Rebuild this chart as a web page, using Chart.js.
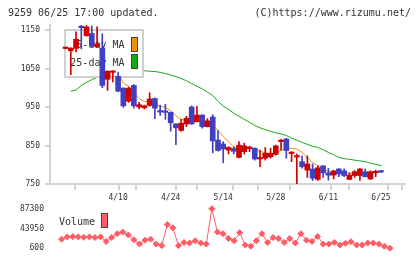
<!DOCTYPE html>
<html>
<head>
<meta charset="utf-8">
<script src="https://cdn.jsdelivr.net/npm/chart.js@4/dist/chart.umd.min.js"></script>
<style>
html,body{margin:0;padding:0;background:#fff;width:420px;height:259px;overflow:hidden;}
#wrap{position:relative;width:420px;height:259px;}
.hdr{position:absolute;top:6px;font:10px 'DejaVu Sans Mono',monospace;color:#333;white-space:pre;line-height:14px;}
#c1{position:absolute;left:0;top:0;}
#c2{position:absolute;left:0;top:195px;}
</style>
</head>
<body>
<div id="wrap">
<canvas id="c1" width="420" height="207"></canvas>
<canvas id="c2" width="420" height="64"></canvas>
<div class="hdr" style="left:8px">9259 06/25 17:00 updated.</div>
<div class="hdr" style="right:9px">(C)https://www.rizumu.net/</div>
</div>
<script>
// ---- data (one entry per trading day, oldest first) ----
const opens  = [1102,1096,1102,1158,1135,1141,1107,1103,1022,1040,1030,999,965,1006,950,948,954,972,939,938,936,906,889,906,950,912,929,899,924,864,854,838,842,819,834,842,843,815,817,821,827,860,867,829,820,808,786,789,762,797,779,773,789,784,762,772,772,782,763,779,784];
const highs  = [1104,1104,1145,1162,1162,1160,1158,1140,1044,1044,1041,1000,1002,1008,962,955,987,974,955,957,937,907,918,926,953,952,930,920,930,889,860,847,847,860,856,848,844,838,845,843,851,866,869,834,828,823,823,802,797,798,791,786,790,789,779,785,790,789,784,786,785];
const lows   = [1101,1034,1093,1101,1134,1106,1106,1000,993,1015,990,949,962,947,945,945,952,920,928,918,887,852,887,899,905,911,895,898,831,835,805,828,828,818,828,834,812,795,812,817,825,838,817,808,751,791,767,759,759,767,760,763,769,769,761,767,759,768,762,769,780];
const closes = [1103,1103,1126,1156,1158,1108,1114,1006,1043,1043,991,953,999,953,956,953,971,947,937,936,909,896,908,921,906,929,899,914,862,837,841,845,835,851,849,843,815,817,830,830,849,864,837,831,822,795,802,765,792,779,773,784,776,772,773,782,789,769,782,781,781];
const ma5    = [null,1074,1089,1108,1129,1130,1132,1108,1086,1063,1039,1012,1004,988,972,964,964,956,952,949,941,927,918,914,910,912,913,914,903,889,873,860,846,842,843,844,839,835,831,828,829,838,842,843,841,832,819,806,797,789,783,780,780,778,778,778,778,778,779,780,783];
const ma25   = [null,991,994,1006,1014,1021,1027,1031,1034,1037,1040,1042,1043,1044,1044,1044,1043,1042,1040,1037,1033,1029,1024,1018,1011,1004,997,989,980,965,952,944,934,926,918,910,902,896,891,887,883,880,876,869,864,858,853,848,845,839,832,826,819,816,814,812,810,808,804,801,798];
const volume = [null,20455,25440,26000,25440,24500,25440,24000,25440,15480,24000,32560,36110,29700,19030,9780,18320,20455,9780,6220,52480,45370,6220,13350,11920,16890,11920,9780,87300,36110,32560,21880,16890,34760,7650,4800,16890,32560,13350,24020,21880,13350,21880,11920,32560,18320,15480,26220,9780,9780,13350,7650,11200,14770,7650,7650,11920,11920,9780,4800,600];
const tickLabels = ['4/10','4/24','5/14','5/28','6/11','6/25'];
const tickIndex  = [10,20,30,40,50,60];
const priceTicks = [750,850,950,1050,1150];
const volumeTicks = [600,43950,87300];

// ---- styling ----
const MONO = "'DejaVu Sans Mono', monospace";
const UP = '#d00000', DOWN = '#4040c0';
const AXIS = '#d4d4d4', TXT = '#333';
const XMIN = -1.078, XMAX = 62.70;

const candleColor = opens.map((o,i) => closes[i] >= o ? UP : DOWN);
const pts = arr => arr.map((v,i) => ({x:i, y:v}));
const plain = v => String(v);

const maLegend = {
  id:'maLegend',
  afterDatasetDraw(chart, args) {
    if (args.index !== 0) return;
    const ctx = chart.ctx;
    ctx.save();
    ctx.fillStyle = '#fff';
    ctx.fillRect(65,30,78,47);
    ctx.strokeStyle = '#cfcfcf'; ctx.lineWidth = 2;
    ctx.strokeRect(65,30,78,47);
    ctx.font = "10px " + MONO;
    ctx.textAlign = 'right'; ctx.textBaseline = 'middle';
    [0,1].forEach((d,k) => {
      const ds = chart.data.datasets[d];
      ctx.fillStyle = TXT;
      ctx.fillText(ds.label, 124.5, 45.5 + k*17.5);
      ctx.fillStyle = ds.borderColor;
      ctx.fillRect(131,37+k*17,7,15);
      ctx.strokeStyle = '#444'; ctx.lineWidth = 1;
      ctx.strokeRect(131.5,37.5+k*17,6,14);
    });
    ctx.restore();
  }
};

new Chart(document.getElementById('c1'), {
  type:'bar',
  data:{
    datasets:[
      {type:'line', label:'5-day MA', data:pts(ma5), borderColor:'#f0900f', backgroundColor:'#f0900f', borderWidth:1, pointRadius:0, order:3},
      {type:'line', label:'25-day MA', data:pts(ma25), borderColor:'#14aa14', backgroundColor:'#14aa14', borderWidth:1, pointRadius:0, order:4},
      {type:'bar', label:'range', data:lows.map((l,i)=>({x:i, y:[l, highs[i]]})), backgroundColor:candleColor, barThickness:1, grouped:false, order:2},
      {type:'bar', label:'body', data:opens.map((o,i)=>({x:i, y:[o, closes[i]]})), backgroundColor:candleColor, barThickness:5, minBarLength:1.5, grouped:false, order:1}
    ]
  },
  options:{
    responsive:false, animation:false, devicePixelRatio:1,
    layout:{padding:{top:25, right:15, left:0, bottom:0}, autoPadding:false},
    plugins:{legend:{display:false}, tooltip:{enabled:false}},
    scales:{
      x:{type:'linear', min:XMIN, max:XMAX, position:'bottom',
        afterBuildTicks: s => {
          const t = [];
          const step = (s.max - s.min) / 11;
          for (let k = 0; k <= 11; k++) t.push({value: s.min + k*step, kind:'g'});
          tickIndex.forEach(v => t.push({value:v, kind:'l'}));
          t.sort((a,b) => a.value - b.value);
          s.ticks = t;
        },
        afterFit: s => { s.height = 23; },
        ticks:{autoSkip:false, maxRotation:0, minRotation:0, padding:3, color:TXT, font:{family:MONO, size:8},
          callback: v => { const k = tickIndex.indexOf(v); return k >= 0 ? tickLabels[k] : ''; }},
        grid:{drawOnChartArea:false, drawTicks:true, tickLength:6, lineWidth:2,
          color: c => (c.tick && c.tick.kind === 'l') ? 'rgba(0,0,0,0)' : AXIS},
        border:{color:AXIS, width:2}
      },
      y:{type:'linear', min:750, max:1163,
        afterBuildTicks: s => { s.ticks = priceTicks.map(v => ({value:v})); },
        afterFit: s => { s.width = 50; },
        ticks:{padding:5, color:TXT, font:{family:MONO, size:8}, callback: plain},
        grid:{drawOnChartArea:false, tickLength:5, lineWidth:2, color:AXIS},
        border:{color:AXIS, width:2}
      }
    }
  },
  plugins:[maLegend]
});

const volLegend = {
  id:'volLegend',
  afterDatasetsDraw(chart) {
    const ctx = chart.ctx, ds = chart.data.datasets[0];
    ctx.save();
    ctx.font = "10px " + MONO;
    ctx.textAlign = 'left'; ctx.textBaseline = 'middle';
    ctx.fillStyle = TXT;
    ctx.fillText(ds.label, 59, 27.5);
    ctx.fillStyle = ds.borderColor;
    ctx.fillRect(101,18,7,15);
    ctx.strokeStyle = '#444'; ctx.lineWidth = 1;
    ctx.strokeRect(101.5,18.5,6,14);
    ctx.restore();
  }
};

new Chart(document.getElementById('c2'), {
  type:'line',
  data:{
    datasets:[
      {label:'Volume', data:pts(volume), borderColor:'#ff5c66', backgroundColor:'#ff5c66', borderWidth:1,
       pointStyle:'rectRot', pointRadius:3, pointBorderWidth:1, clip:8}
    ]
  },
  options:{
    responsive:false, animation:false, devicePixelRatio:1,
    layout:{padding:{top:13.7, right:15, left:0, bottom:9.7}, autoPadding:false},
    plugins:{legend:{display:false}, tooltip:{enabled:false}},
    scales:{
      x:{type:'linear', min:XMIN, max:XMAX, display:false},
      y:{type:'linear', min:600, max:87300,
        afterBuildTicks: s => { s.ticks = volumeTicks.map(v => ({value:v})); },
        afterFit: s => { s.width = 50; },
        ticks:{padding:6, color:TXT, font:{family:MONO, size:8}, callback: plain},
        grid:{display:false, drawTicks:false},
        border:{display:false}
      }
    }
  },
  plugins:[volLegend]
});
</script>
</body>
</html>
